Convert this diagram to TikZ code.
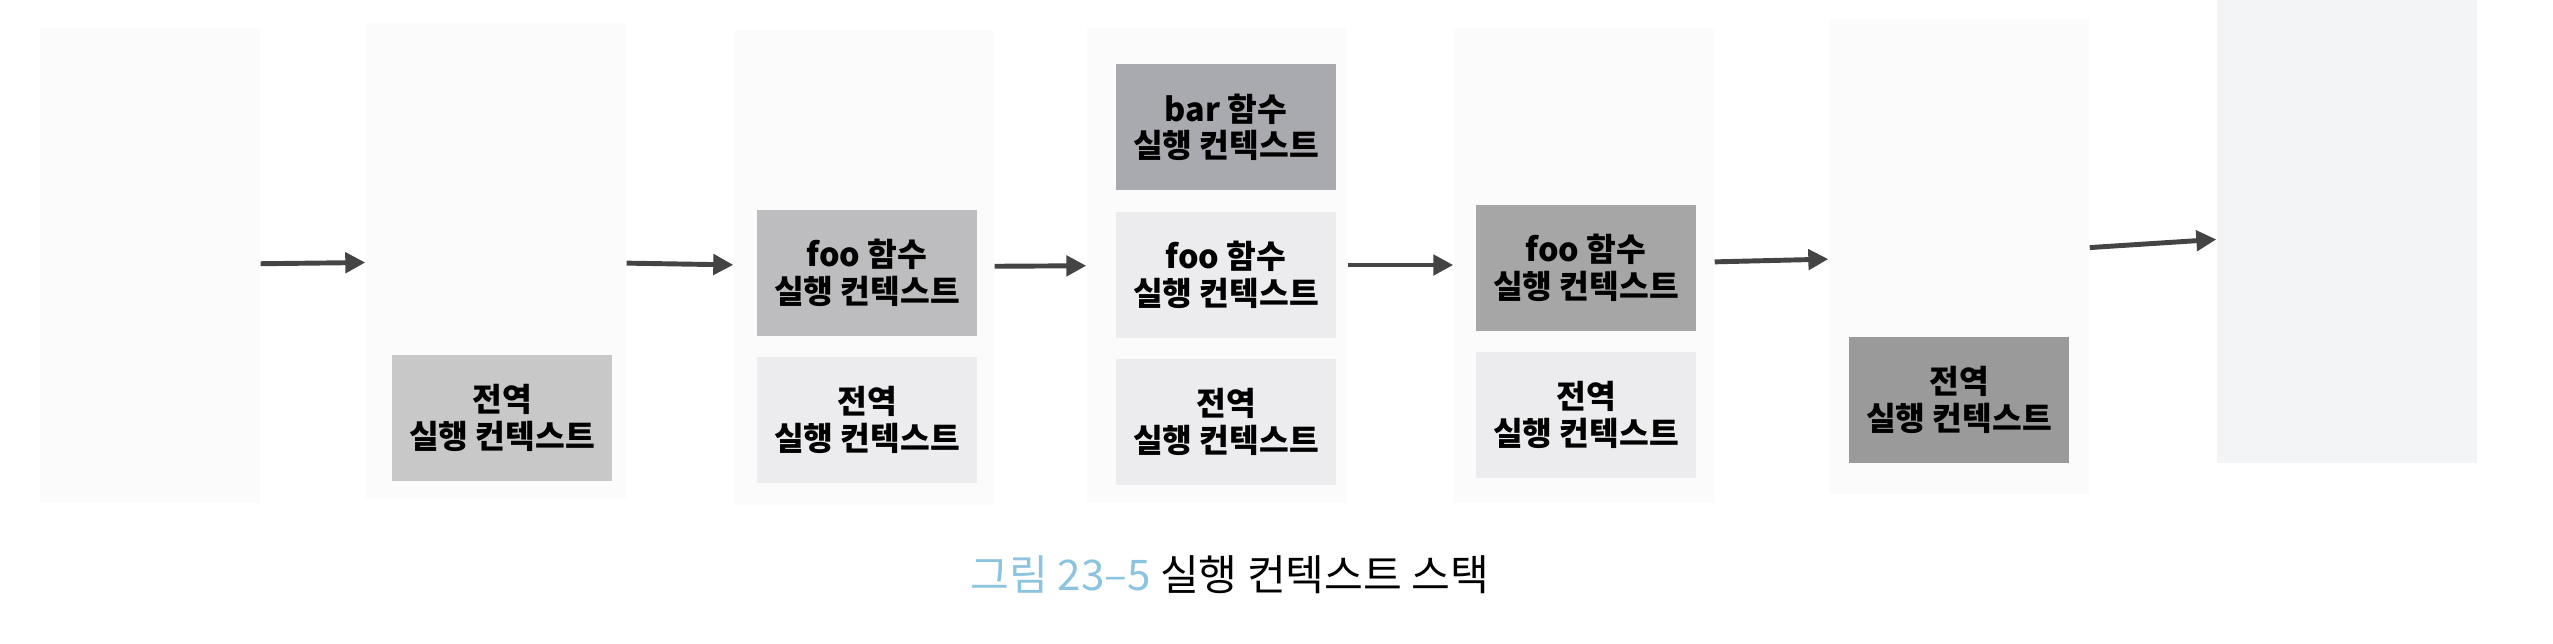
\documentclass[tikz,border=0pt]{standalone}
\usepackage{fontspec}
\setmainfont{Noto Sans CJK KR}
\usetikzlibrary{positioning,arrows.meta}

\definecolor{panelgray}{HTML}{FBFBFB}
\definecolor{panelcool}{HTML}{F3F4F5}
\definecolor{ctxlight}{HTML}{ECECEF}
\definecolor{ctxmid}{HTML}{C8C8C8}
\definecolor{ctxfoo}{HTML}{BDBDBF}
\definecolor{ctxbar}{HTML}{A9A9B0}
\definecolor{ctxdark}{HTML}{A6A6A6}
\definecolor{ctxdeep}{HTML}{9A9A9A}
\definecolor{arrowgray}{HTML}{444444}
\definecolor{capblue}{HTML}{8CC3DF}

\tikzset{
	panel/.style={fill=panelgray, minimum width=2.6cm, minimum height=4.75cm, inner sep=0pt},
	ctx/.style={fill=#1, minimum width=2.2cm, minimum height=1.26cm, inner sep=0pt, align=center,
		font=\bfseries\fontsize{9.2}{10.4}\selectfont},
	ctx/.default=ctxlight,
	flow/.style={draw=arrowgray, line width=1.4pt, -{Triangle[length=0.2cm,width=0.2cm]}},
}

\begin{document}
\begin{tikzpicture}
	\useasboundingbox (0,0) rectangle (25.53,6.43);
	% stack snapshots, left to right
	\node[panel, minimum width=2.2cm] (p0) at (1.50,3.78) {};
	\node[panel] (p1) at (4.96,3.82) {};
	\node[panel] (p2) at (8.64,3.76) {};
	\node[panel] (p3) at (12.17,3.78) {};
	\node[panel] (p4) at (15.84,3.78) {};
	\node[panel] (p5) at (19.59,3.87) {};
	\node[panel, fill=panelcool, minimum height=4.63cm] (p6) at (23.47,4.12) {};
	% contexts on each stack
	\node[ctx=ctxmid] (g1) at (5.02,2.25) {전역\\실행 컨텍스트};
	\node[ctx] (g2) at (8.67,2.23) {전역\\실행 컨텍스트};
	\node[ctx=ctxfoo, above=0.2cm of g2] (f2) {foo 함수\\실행 컨텍스트};
	\node[ctx] (g3) at (12.26,2.21) {전역\\실행 컨텍스트};
	\node[ctx, above=0.2cm of g3] (f3) {foo 함수\\실행 컨텍스트};
	\node[ctx=ctxbar, above=0.2cm of f3] (b3) {bar 함수\\실행 컨텍스트};
	\node[ctx] (g4) at (15.86,2.28) {전역\\실행 컨텍스트};
	\node[ctx=ctxdark, above=0.2cm of g4] (f4) {foo 함수\\실행 컨텍스트};
	\node[ctx=ctxdeep] (g5) at (19.59,2.43) {전역\\실행 컨텍스트};
	% arrows between snapshots
	\foreach \a/\b in {p0/p1, p1/p2, p2/p3, p3/p4, p4/p5, p5/p6} { \draw[flow] (\a) -- (\b); }
	% caption
	\node[font=\fontsize{12}{14}\selectfont] (cap) at (12.30,0.68)
		{\textcolor{capblue}{그림 23–5} 실행 컨텍스트 스택};
\end{tikzpicture}
\end{document}
